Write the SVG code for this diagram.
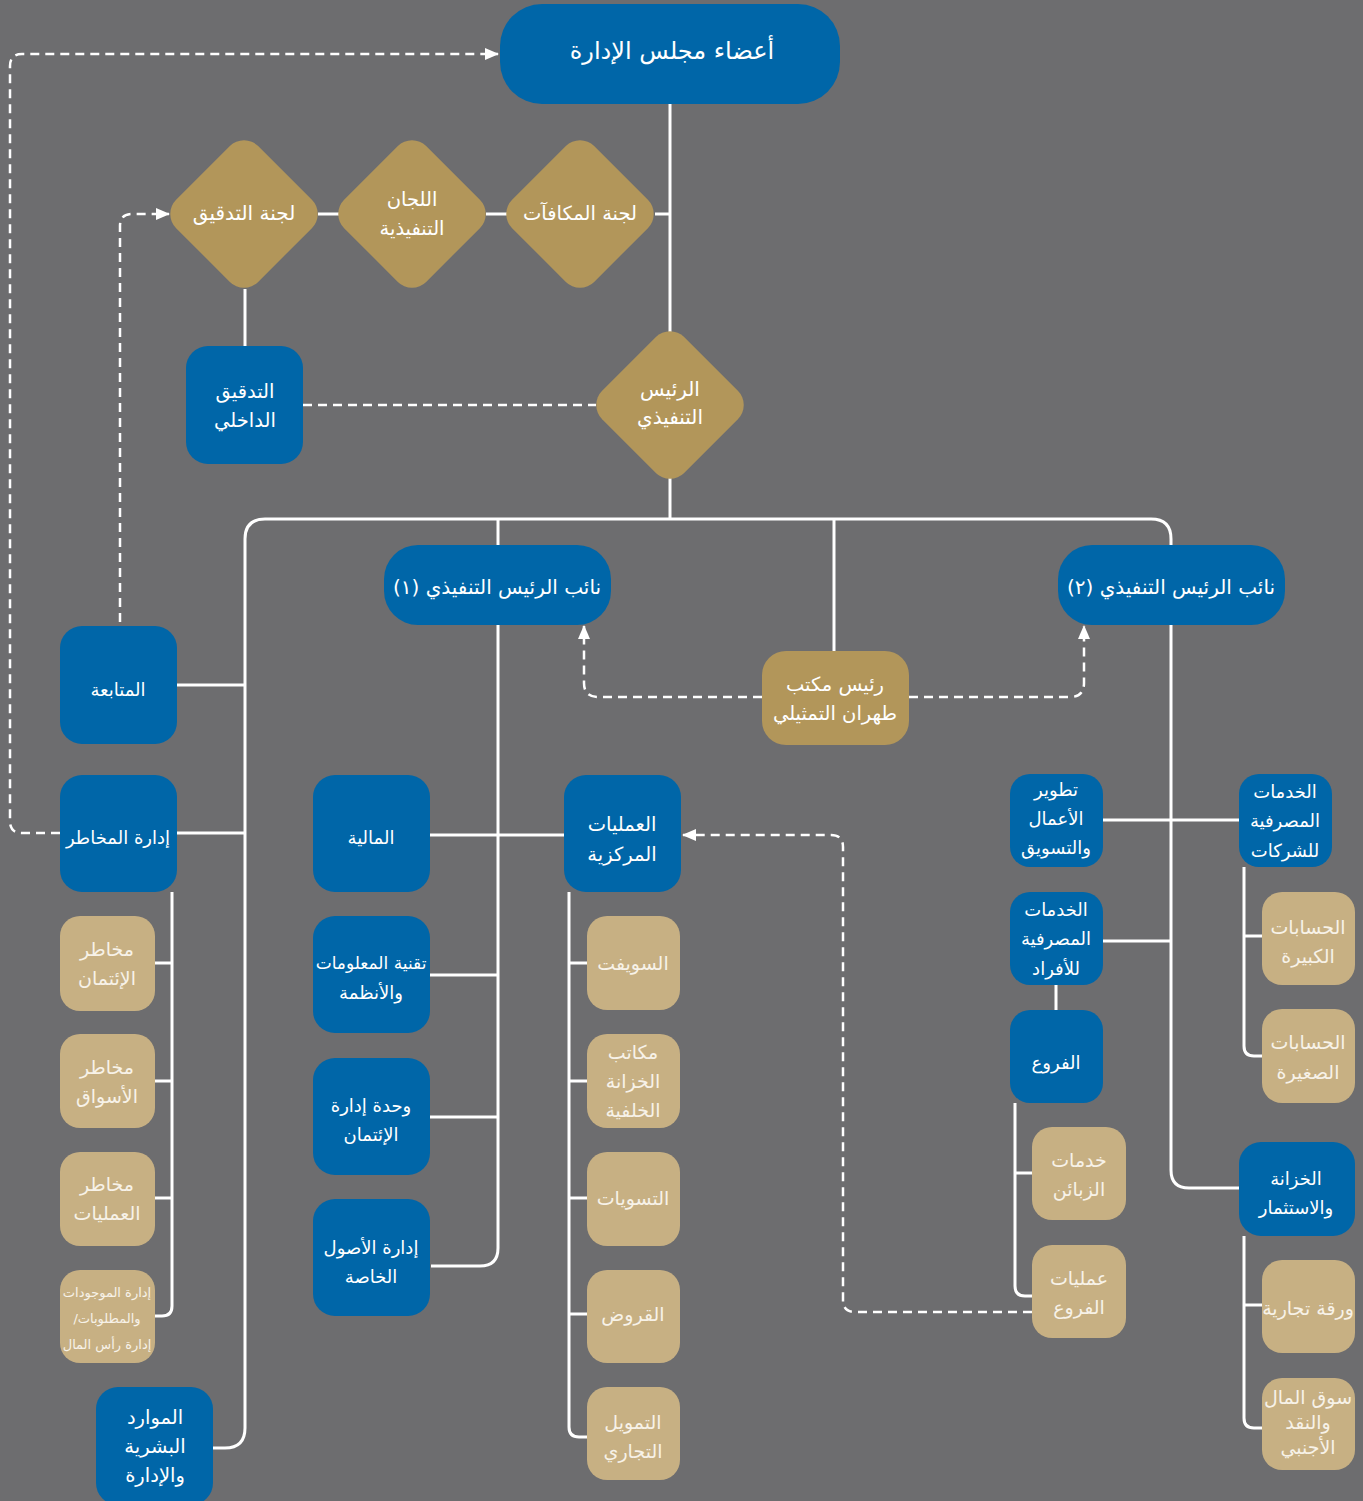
<svg xmlns="http://www.w3.org/2000/svg" width="1363" height="1501" viewBox="0 0 1363 1501">
<style>
.bl{fill:#0066a8}
.gd{fill:#b2965a}
.tn{fill:#c7b083}
.ln{fill:none;stroke:#fff;stroke-width:3}
.ds{fill:none;stroke:#fff;stroke-width:2.5;stroke-dasharray:9 6}
text{font-family:"DejaVu Sans",sans-serif;font-size:18px;fill:#fff;text-anchor:middle;dominant-baseline:central;direction:rtl}
.big{font-size:24px}
.vp{font-size:20px}
.md{font-size:19.5px}
.it{font-size:17px}
.sm{font-size:13px}
.lt{fill:#f7f2e8;font-size:19px}
.lt.sm{font-size:13px}
</style>
<defs>
<marker id="ah" markerWidth="14" markerHeight="12" viewBox="0 0 14 12" refX="13" refY="6" orient="auto" markerUnits="userSpaceOnUse">
<path d="M0,0 L14,6 L0,12 z" fill="#fff"/>
</marker>
</defs>
<rect width="1363" height="1501" fill="#6d6d6f"/>
<g id="connectors">
<path class="ln" d="M670 104 V332"/>
<path class="ln" d="M655 214 H670"/>
<path class="ln" d="M318 214 H340 M486 214 H507"/>
<path class="ln" d="M245 289 V346"/>
<path class="ln" d="M670 478 V519"/>
<path class="ln" d="M213 1448 H225 Q245 1448 245 1428 V539 Q245 519 265 519 H1151 Q1171 519 1171 539 V545"/>
<path class="ln" d="M498 519 V545"/>
<path class="ln" d="M834 519 V651"/>
<path class="ln" d="M177 685 H245 M177 833 H245"/>
<path class="ln" d="M172 892 V1306 Q172 1316 162 1316 H155"/>
<path class="ln" d="M155 963 H172 M155 1081 H172 M155 1198 H172"/>
<path class="ln" d="M498 625 V1248 Q498 1266 480 1266 H431"/>
<path class="ln" d="M430 835 H564 M430 975 H498 M430 1117 H498"/>
<path class="ln" d="M569 892 V1427 Q569 1437 579 1437 H587"/>
<path class="ln" d="M569 963 H587 M569 1081 H587 M569 1198 H587 M569 1314 H587"/>
<path class="ln" d="M1171 625 V1170 Q1171 1188 1189 1188 H1239"/>
<path class="ln" d="M1103 820 H1239 M1103 941 H1171 M1056 985 V1010"/>
<path class="ln" d="M1015 1103 V1286 Q1015 1296 1025 1296 H1032 M1015 1173 H1032"/>
<path class="ln" d="M1244 867 V1046 Q1244 1056 1254 1056 H1262 M1244 936 H1262"/>
<path class="ln" d="M1244 1236 V1418 Q1244 1428 1254 1428 H1262 M1244 1305 H1262"/>
<path class="ds" d="M60 833 H22 Q10 833 10 821 V66 Q10 54 22 54 H498" marker-end="url(#ah)"/>
<path class="ds" d="M120 622 V226 Q120 214 132 214 H169" marker-end="url(#ah)"/>
<path class="ds" d="M303 405 H596"/>
<path class="ds" d="M762 697 H598 Q584 697 584 683 V626" marker-end="url(#ah)"/>
<path class="ds" d="M909 697 H1070 Q1084 697 1084 683 V626" marker-end="url(#ah)"/>
<path class="ds" d="M1032 1312 H855 Q843 1312 843 1300 V847 Q843 835 831 835 H683" marker-end="url(#ah)"/>
</g>
<g id="board"><rect class="bl" x="500" y="4" width="340" height="100" rx="42"/><text class="big" x="672" y="51">أعضاء مجلس الإدارة</text></g>
<g id="audit-committee"><rect class="gd" x="-58" y="-58" width="116" height="116" rx="20" transform="translate(244 214) rotate(45)"/><text class="vp" x="244" y="213">لجنة التدقيق</text></g>
<g id="exec-committees"><rect class="gd" x="-58" y="-58" width="116" height="116" rx="20" transform="translate(412 214) rotate(45)"/><text class="md" x="412" y="199">اللجان</text><text class="md" x="412" y="228">التنفيذية</text></g>
<g id="remuneration-committee"><rect class="gd" x="-58" y="-58" width="116" height="116" rx="20" transform="translate(580 214) rotate(45)"/><text class="md" x="580" y="213">لجنة المكافآت</text></g>
<g id="internal-audit"><rect class="bl" x="186" y="346" width="117" height="118" rx="22"/><text class="md" x="245" y="391">التدقيق</text><text class="md" x="245" y="420">الداخلي</text></g>
<g id="ceo"><rect class="gd" x="-58" y="-58" width="116" height="116" rx="20" transform="translate(670 405) rotate(45)"/><text class="vp" x="670" y="389">الرئيس</text><text class="vp" x="670" y="417">التنفيذي</text></g>
<g id="vp1"><rect class="bl" x="384" y="545" width="227" height="80" rx="34"/><text class="vp" x="497" y="587">نائب الرئيس التنفيذي (١)</text></g>
<g id="vp2"><rect class="bl" x="1058" y="545" width="227" height="80" rx="34"/><text class="vp" x="1171" y="587">نائب الرئيس التنفيذي (٢)</text></g>
<g id="tehran"><rect class="gd" x="762" y="651" width="147" height="94" rx="24"/><text class="md" x="835" y="684">رئيس مكتب</text><text class="md" x="835" y="713">طهران التمثيلي</text></g>
<g id="followup"><rect class="bl" x="60" y="626" width="117" height="118" rx="22"/><text x="118" y="689">المتابعة</text></g>
<g id="risk"><rect class="bl" x="60" y="775" width="117" height="117" rx="22"/><text x="118" y="837">إدارة المخاطر</text></g>
<g id="credit-risk"><rect class="tn" x="60" y="916" width="95" height="95" rx="20"/><text class="lt" x="107" y="949">مخاطر</text><text class="lt" x="107" y="978">الإئتمان</text></g>
<g id="market-risk"><rect class="tn" x="60" y="1034" width="95" height="94" rx="20"/><text class="lt" x="107" y="1067">مخاطر</text><text class="lt" x="107" y="1096">الأسواق</text></g>
<g id="ops-risk"><rect class="tn" x="60" y="1152" width="95" height="94" rx="20"/><text class="lt" x="107" y="1184">مخاطر</text><text class="lt" x="107" y="1213">العمليات</text></g>
<g id="alm"><rect class="tn" x="60" y="1270" width="95" height="93" rx="20"/><text class="lt sm" x="107" y="1292">إدارة الموجودات</text><text class="lt sm" x="107" y="1318">والمطلوبات/</text><text class="lt sm" x="107" y="1344">إدارة رأس المال</text></g>
<g id="hr"><rect class="bl" x="96" y="1387" width="117" height="118" rx="22"/><text class="md" x="155" y="1417">الموارد</text><text class="md" x="155" y="1446">البشرية</text><text class="md" x="155" y="1475">والإدارة</text></g>
<g id="finance"><rect class="bl" x="313" y="775" width="117" height="117" rx="22"/><text x="371" y="837">المالية</text></g>
<g id="central-ops"><rect class="bl" x="564" y="775" width="117" height="117" rx="22"/><text class="md" x="622" y="824">العمليات</text><text class="md" x="622" y="854">المركزية</text></g>
<g id="it"><rect class="bl" x="313" y="916" width="117" height="117" rx="22"/><text class="it" x="371" y="963">تقنية المعلومات</text><text x="371" y="992">والأنظمة</text></g>
<g id="credit-admin"><rect class="bl" x="313" y="1058" width="117" height="117" rx="22"/><text x="371" y="1105">وحدة إدارة</text><text x="371" y="1134">الإئتمان</text></g>
<g id="private-assets"><rect class="bl" x="313" y="1199" width="117" height="117" rx="22"/><text x="371" y="1247">إدارة الأصول</text><text x="371" y="1276">الخاصة</text></g>
<g id="swift"><rect class="tn" x="587" y="916" width="93" height="94" rx="20"/><text class="lt" x="633" y="963">السويفت</text></g>
<g id="back-office"><rect class="tn" x="587" y="1034" width="93" height="94" rx="20"/><text class="lt" x="633" y="1052">مكاتب</text><text class="lt" x="633" y="1081">الخزانة</text><text class="lt" x="633" y="1110">الخلفية</text></g>
<g id="settlements"><rect class="tn" x="587" y="1152" width="93" height="94" rx="20"/><text class="lt" x="633" y="1198">التسويات</text></g>
<g id="loans"><rect class="tn" x="587" y="1270" width="93" height="93" rx="20"/><text class="lt" x="633" y="1314">القروض</text></g>
<g id="trade-finance"><rect class="tn" x="587" y="1387" width="93" height="93" rx="20"/><text class="lt" x="633" y="1422">التمويل</text><text class="lt" x="633" y="1451">التجاري</text></g>
<g id="bizdev"><rect class="bl" x="1010" y="774" width="93" height="93" rx="20"/><text x="1056" y="789">تطوير</text><text x="1056" y="818">الأعمال</text><text x="1056" y="847">والتسويق</text></g>
<g id="corporate"><rect class="bl" x="1239" y="774" width="93" height="93" rx="20"/><text x="1285" y="791">الخدمات</text><text x="1285" y="820">المصرفية</text><text x="1285" y="850">للشركات</text></g>
<g id="retail"><rect class="bl" x="1010" y="892" width="93" height="93" rx="20"/><text x="1056" y="909">الخدمات</text><text x="1056" y="938">المصرفية</text><text x="1056" y="968">للأفراد</text></g>
<g id="branches"><rect class="bl" x="1010" y="1010" width="93" height="93" rx="20"/><text x="1056" y="1062">الفروع</text></g>
<g id="customer-service"><rect class="tn" x="1032" y="1127" width="94" height="93" rx="20"/><text class="lt" x="1079" y="1160">خدمات</text><text class="lt" x="1079" y="1189">الزبائن</text></g>
<g id="branch-ops"><rect class="tn" x="1032" y="1245" width="94" height="93" rx="20"/><text class="lt" x="1079" y="1278">عمليات</text><text class="lt" x="1079" y="1307">الفروع</text></g>
<g id="large-accounts"><rect class="tn" x="1262" y="892" width="93" height="93" rx="20"/><text class="lt" x="1308" y="927">الحسابات</text><text class="lt" x="1308" y="956">الكبيرة</text></g>
<g id="small-accounts"><rect class="tn" x="1262" y="1009" width="93" height="94" rx="20"/><text class="lt" x="1308" y="1042">الحسابات</text><text class="lt" x="1308" y="1072">الصغيرة</text></g>
<g id="treasury"><rect class="bl" x="1239" y="1142" width="116" height="94" rx="22"/><text x="1296" y="1178">الخزانة</text><text x="1296" y="1207">والاستثمار</text></g>
<g id="commercial-paper"><rect class="tn" x="1262" y="1260" width="93" height="93" rx="20"/><text class="lt" x="1308" y="1308">ورقة تجارية</text></g>
<g id="money-fx"><rect class="tn" x="1262" y="1378" width="93" height="92" rx="20"/><text class="lt" x="1308" y="1397">سوق المال</text><text class="lt" x="1308" y="1422">والنقد</text><text class="lt" x="1308" y="1447">الأجنبي</text></g>
</svg>
